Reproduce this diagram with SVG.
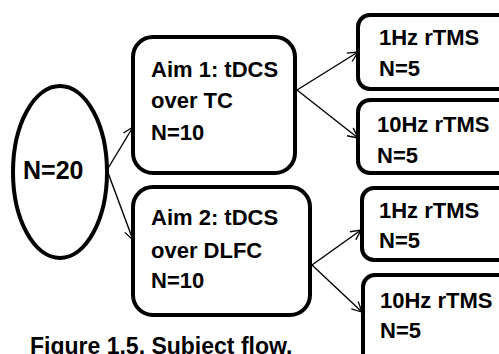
<svg xmlns="http://www.w3.org/2000/svg" width="499" height="354" viewBox="0 0 499 354">
<defs>
<marker id="ah" viewBox="0 0 12 12" refX="11" refY="6" markerWidth="12" markerHeight="12" markerUnits="userSpaceOnUse" orient="auto">
<path d="M1,1 L11,6 L1,11" fill="none" stroke="#000" stroke-width="1.3"/>
</marker>
</defs>
<style>
.n{fill:#fff;stroke:#000;stroke-width:4}
.t{font-family:"Liberation Sans",Arial,sans-serif;font-weight:bold;font-size:22px;fill:#000}
.c line{stroke:#000;stroke-width:1.4;marker-end:url(#ah)}
</style>
<rect width="499" height="354" fill="#fff"/>
<g class="c" id="connectors">
<line x1="107" y1="170" x2="133" y2="127"/>
<line x1="107" y1="170" x2="133" y2="240"/>
<line x1="297" y1="90" x2="358" y2="52"/>
<line x1="297" y1="90" x2="358" y2="138"/>
<line x1="312" y1="265" x2="361" y2="230"/>
<line x1="312" y1="265" x2="362" y2="312"/>
</g>
<g id="n20">
<ellipse class="n" cx="60" cy="172" rx="47" ry="86"/>
<text class="t" x="23" y="179" style="font-size:25px">N=20</text>
</g>
<g id="aim1">
<rect class="n" x="133" y="37" width="162" height="136" rx="20"/>
<text class="t" x="151" y="77">Aim 1: tDCS</text>
<text class="t" x="151" y="108">over TC</text>
<text class="t" x="151" y="140">N=10</text>
</g>
<g id="aim2">
<rect class="n" x="133" y="187" width="177" height="128" rx="20"/>
<text class="t" x="151" y="225">Aim 2: tDCS</text>
<text class="t" x="151" y="258">over DLFC</text>
<text class="t" x="151" y="288">N=10</text>
</g>
<g id="tc1">
<rect class="n" x="358" y="15" width="160" height="74" rx="12"/>
<text class="t" x="379" y="45">1Hz rTMS</text>
<text class="t" x="379" y="76">N=5</text>
</g>
<g id="tc10">
<rect class="n" x="358" y="100" width="160" height="73" rx="12"/>
<text class="t" x="377" y="132">10Hz rTMS</text>
<text class="t" x="377" y="163">N=5</text>
</g>
<g id="dl1">
<rect class="n" x="362" y="188" width="160" height="72" rx="12"/>
<text class="t" x="379" y="218">1Hz rTMS</text>
<text class="t" x="379" y="248">N=5</text>
</g>
<g id="dl10">
<rect class="n" x="363" y="275" width="160" height="100" rx="12"/>
<text class="t" x="380" y="308">10Hz rTMS</text>
<text class="t" x="380" y="338">N=5</text>
</g>
<text class="t" x="30" y="354" style="font-size:23px">Figure 1.5. Subject flow.</text>
</svg>
